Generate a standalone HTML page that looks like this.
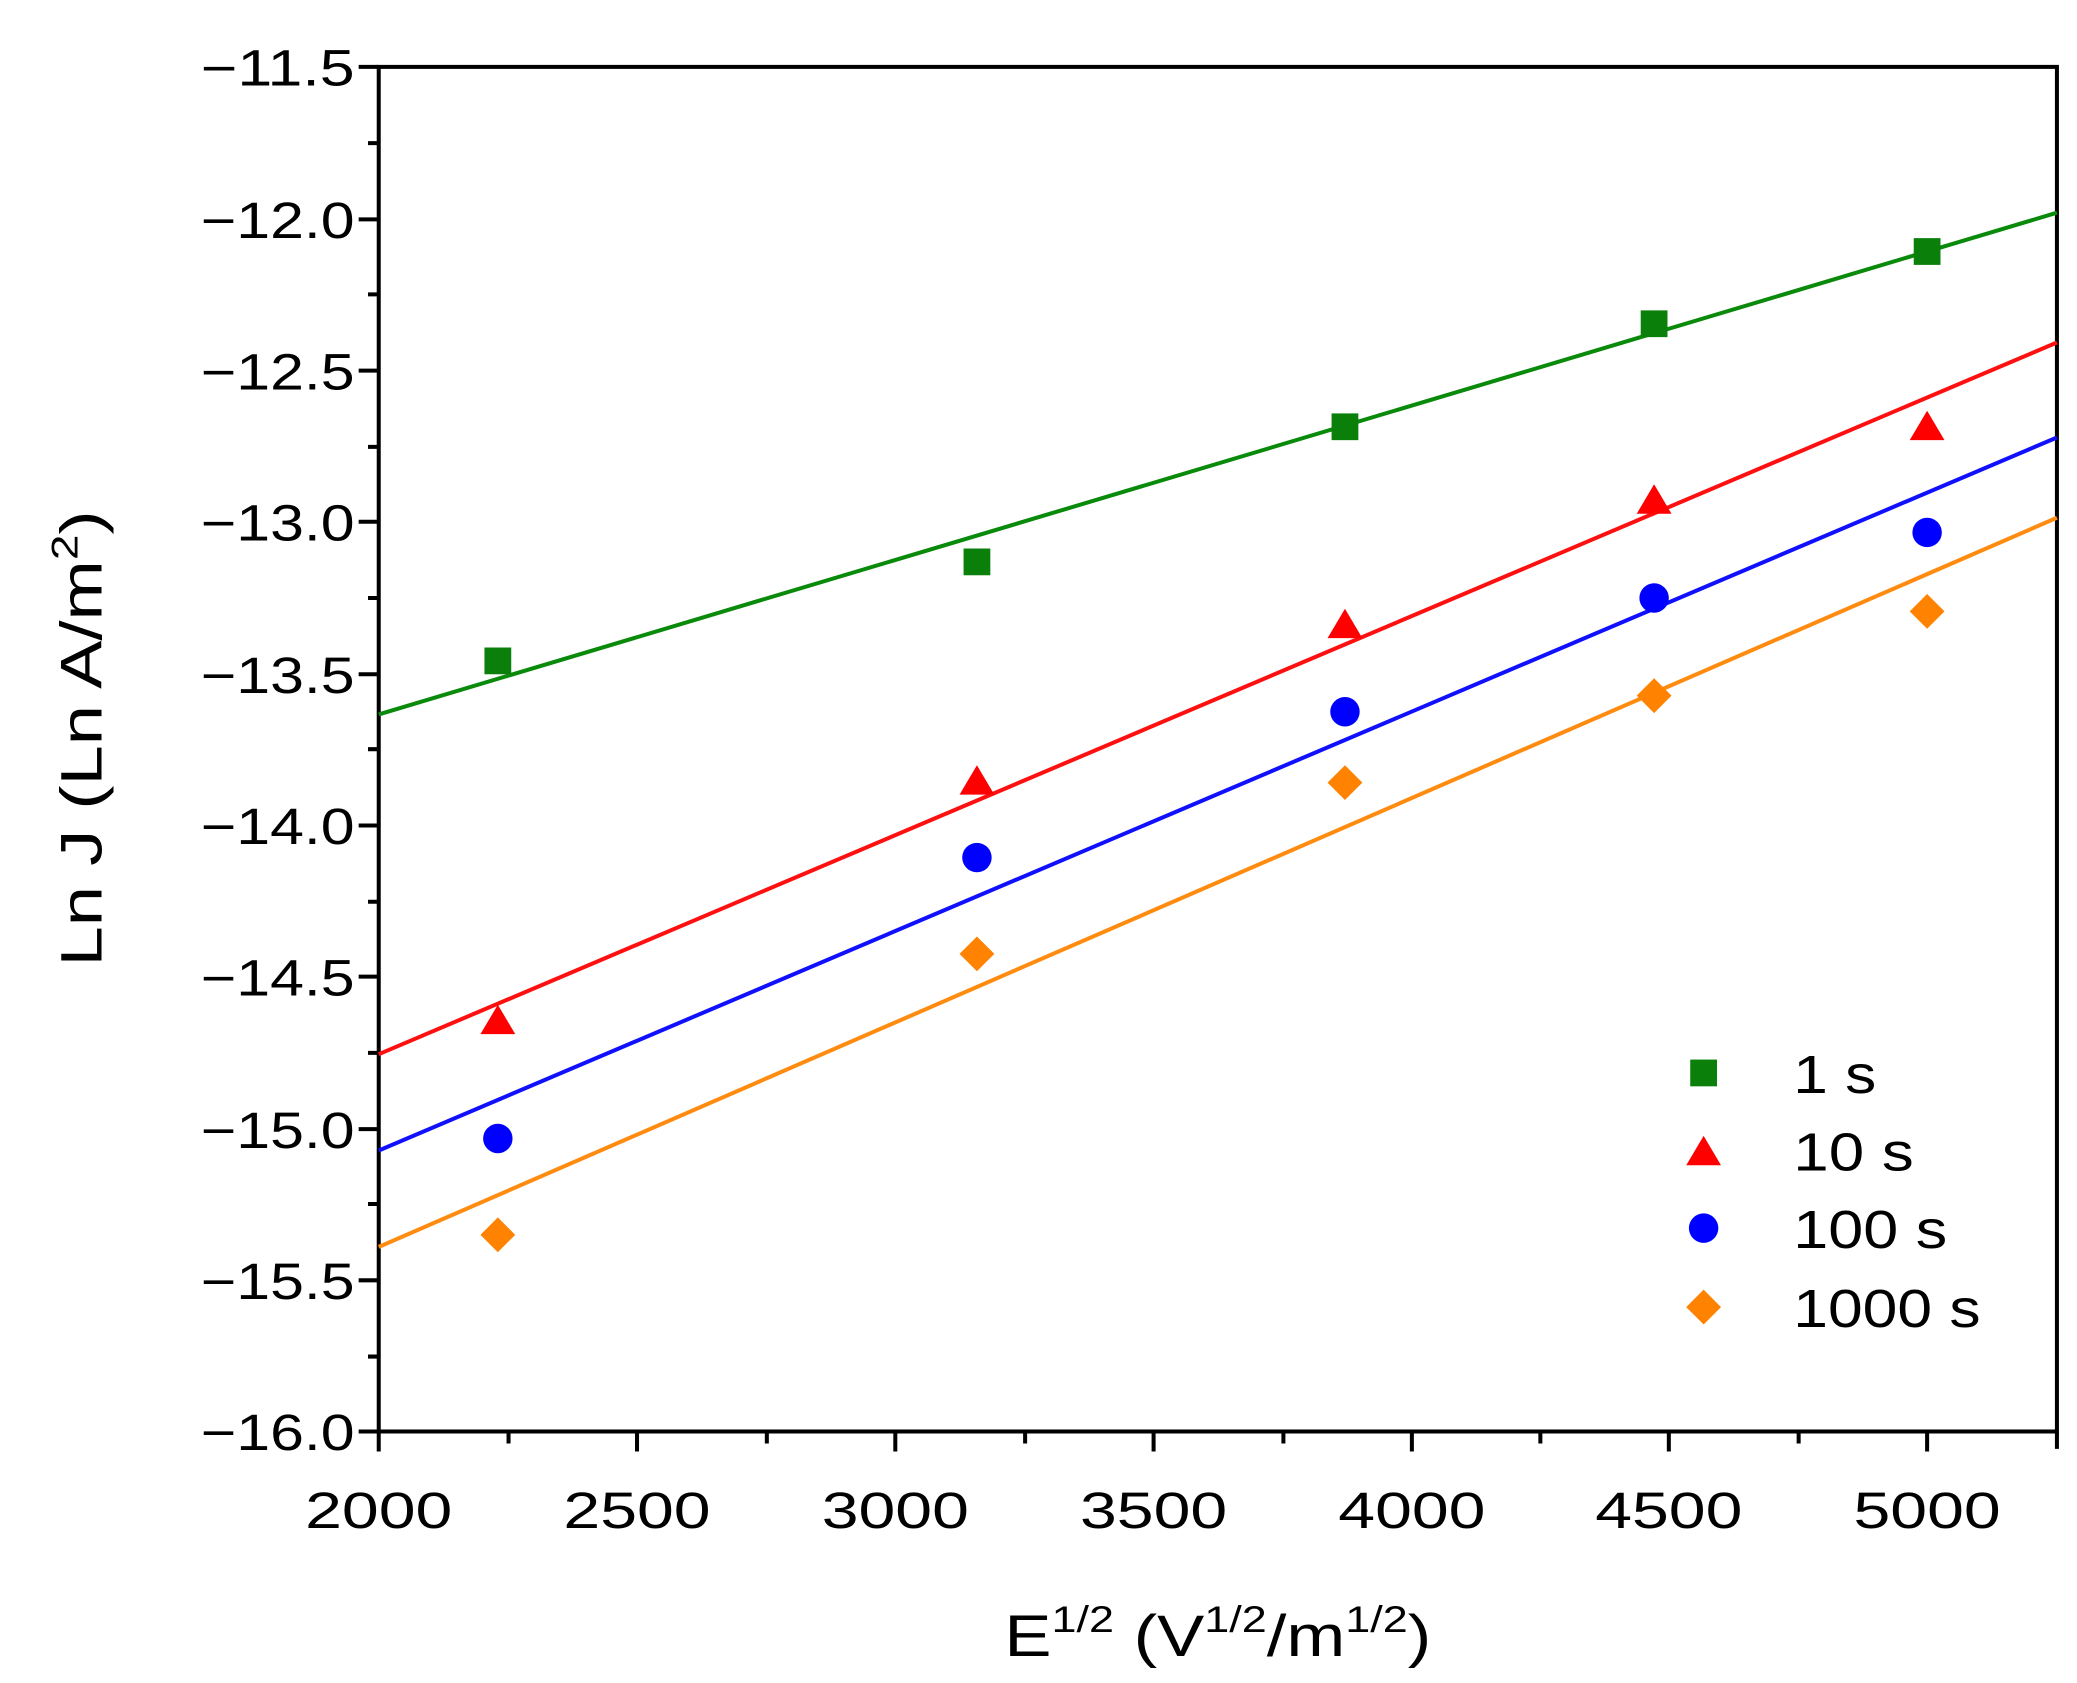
<!DOCTYPE html>
<html><head><meta charset="utf-8"><style>html,body{margin:0;padding:0;background:#fff}svg{display:block}</style></head>
<body>
<svg width="2077" height="1683" viewBox="0 0 1552 1258" preserveAspectRatio="none" xmlns="http://www.w3.org/2000/svg" font-family="Liberation Sans, Arial, sans-serif">
<rect width="1552" height="1258" fill="#fff"/>
<g stroke="#000" stroke-width="3" fill="none">
<rect x="283" y="50" width="1254" height="1020"/>
<line x1="1537" y1="1070" x2="1537" y2="1083"/>
<path d="M268 50H283M268 164H283M268 277H283M268 390H283M268 504H283M268 617H283M268 730H283M268 844H283M268 957H283M268 1070H283"/>
<path d="M275 107H283M275 220H283M275 334H283M275 447H283M275 560H283M275 674H283M275 787H283M275 900H283M275 1014H283"/>
<path d="M283 1070V1085M476 1070V1085M669 1070V1085M862 1070V1085M1055 1070V1085M1247 1070V1085M1440 1070V1085"/>
<path d="M380 1070V1079M573 1070V1079M766 1070V1079M959 1070V1079M1151 1070V1079M1344 1070V1079"/>
</g>
<g font-size="38" fill="#000">
<text x="150" y="64" textLength="115" lengthAdjust="spacingAndGlyphs">−11.5</text>
<text x="150" y="178" textLength="115" lengthAdjust="spacingAndGlyphs">−12.0</text>
<text x="150" y="291" textLength="115" lengthAdjust="spacingAndGlyphs">−12.5</text>
<text x="150" y="404" textLength="115" lengthAdjust="spacingAndGlyphs">−13.0</text>
<text x="150" y="518" textLength="115" lengthAdjust="spacingAndGlyphs">−13.5</text>
<text x="150" y="631" textLength="115" lengthAdjust="spacingAndGlyphs">−14.0</text>
<text x="150" y="744" textLength="115" lengthAdjust="spacingAndGlyphs">−14.5</text>
<text x="150" y="858" textLength="115" lengthAdjust="spacingAndGlyphs">−15.0</text>
<text x="150" y="971" textLength="115" lengthAdjust="spacingAndGlyphs">−15.5</text>
<text x="150" y="1084" textLength="115" lengthAdjust="spacingAndGlyphs">−16.0</text>
</g>
<g font-size="38" fill="#000">
<text x="228" y="1142" textLength="110" lengthAdjust="spacingAndGlyphs">2000</text>
<text x="421" y="1142" textLength="110" lengthAdjust="spacingAndGlyphs">2500</text>
<text x="614" y="1142" textLength="110" lengthAdjust="spacingAndGlyphs">3000</text>
<text x="807" y="1142" textLength="110" lengthAdjust="spacingAndGlyphs">3500</text>
<text x="1000" y="1142" textLength="110" lengthAdjust="spacingAndGlyphs">4000</text>
<text x="1192" y="1142" textLength="110" lengthAdjust="spacingAndGlyphs">4500</text>
<text x="1385" y="1142" textLength="110" lengthAdjust="spacingAndGlyphs">5000</text>
</g>
<text transform="translate(910,1238) scale(1.2,1)" font-size="44" text-anchor="middle">E<tspan font-size="28" dy="-18">1/2</tspan><tspan dy="18"> (V</tspan><tspan font-size="28" dy="-18">1/2</tspan><tspan dy="18">/m</tspan><tspan font-size="28" dy="-18">1/2</tspan><tspan dy="18">)</tspan></text>
<text transform="translate(76,552) rotate(-90) scale(1.23,1)" font-size="44" text-anchor="middle">Ln J (Ln A/m<tspan font-size="28" dy="-18">2</tspan><tspan dy="18">)</tspan></text>
<g stroke-width="3" fill="none">
<line x1="283" y1="534" x2="1537" y2="159" stroke="#0a8a0a"/>
<line x1="283" y1="788" x2="1537" y2="256" stroke="#ff1010"/>
<line x1="283" y1="860" x2="1537" y2="327" stroke="#1010ff"/>
<line x1="283" y1="932" x2="1537" y2="387" stroke="#ff8c10"/>
</g>
<g fill="#0a7f0a">
<rect x="362" y="484" width="20" height="20"/><rect x="720" y="410" width="20" height="20"/><rect x="995" y="309" width="20" height="20"/><rect x="1226" y="232" width="20" height="20"/><rect x="1430" y="178" width="20" height="20"/>
<rect x="1263" y="792" width="20" height="20"/>
</g>
<g fill="#ff0000">
<path d="M372 751l13 22h-26z"/><path d="M730 572l13 22h-26z"/><path d="M1005 455l13 22h-26z"/><path d="M1236 362l13 22h-26z"/><path d="M1440 307l13 22h-26z"/><path d="M1273 849l13 22h-26z"/>
</g>
<g fill="#0000ff">
<circle cx="372" cy="851" r="11"/><circle cx="730" cy="641" r="11"/><circle cx="1005" cy="532" r="11"/><circle cx="1236" cy="447" r="11"/><circle cx="1440" cy="398" r="11"/><circle cx="1273" cy="918" r="11"/>
</g>
<g fill="#ff8200">
<path d="M372 910l13 13-13 13-13-13z"/><path d="M730 700l13 13-13 13-13-13z"/><path d="M1005 572l13 13-13 13-13-13z"/><path d="M1236 507l13 13-13 13-13-13z"/><path d="M1440 444l13 13-13 13-13-13z"/><path d="M1273 964l13 13-13 13-13-13z"/>
</g>
<g font-size="40" fill="#000">
<text x="1340" y="817" textLength="62" lengthAdjust="spacingAndGlyphs">1 s</text>
<text x="1340" y="875" textLength="90" lengthAdjust="spacingAndGlyphs">10 s</text>
<text x="1340" y="933" textLength="115" lengthAdjust="spacingAndGlyphs">100 s</text>
<text x="1340" y="992" textLength="140" lengthAdjust="spacingAndGlyphs">1000 s</text>
</g>
</svg>
</body></html>
